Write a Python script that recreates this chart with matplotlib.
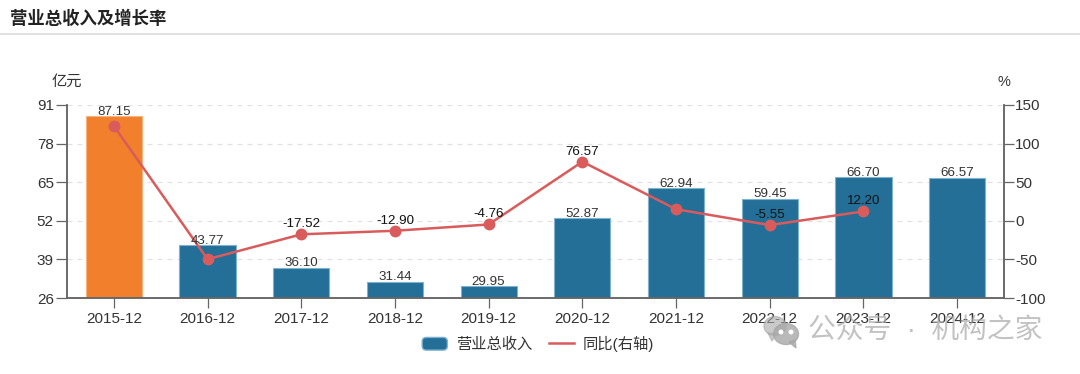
import matplotlib
matplotlib.use('Agg')
import matplotlib.pyplot as plt
from matplotlib.patches import Ellipse, Patch, Polygon, FancyBboxPatch
from matplotlib.legend_handler import HandlerPatch
from matplotlib.lines import Line2D
import numpy as np

plt.rcParams['font.family'] = ['Liberation Sans', 'Noto Sans CJK SC', 'DejaVu Sans']
plt.rcParams['axes.unicode_minus'] = False

categories = ['2015-12', '2016-12', '2017-12', '2018-12', '2019-12',
              '2020-12', '2021-12', '2022-12', '2023-12', '2024-12']
revenue = [87.15, 43.77, 36.10, 31.44, 29.95, 52.87, 62.94, 59.45, 66.70, 66.57]
growth = [122.8, -49.8, -17.52, -12.90, -4.76, 76.57, 15.0, -5.55, 12.20, np.nan]
growth_labels = [None, None, '-17.52', '-12.90', '-4.76', '76.57', None, '-5.55', '12.20', None]
left_ticks = [26, 39, 52, 65, 78, 91]
right_ticks = [-100, -50, 0, 50, 100, 150]

W, H = 1080, 374
BLUE = '#236f98'
ORANGE = '#f27f2c'
RED = '#d95b5c'
AXIS = '#666666'
TEXT = '#333333'

fig = plt.figure(figsize=(W / 100, H / 100), dpi=100, facecolor='white')
ax = fig.add_axes([67 / W, 1 - 298 / H, 937 / W, 193 / H])
x = np.arange(len(categories))

# bars, first year is highlighted
colors = [ORANGE] + [BLUE] * 9
edges = ['#f9b27c'] + ['#7fb2cf'] * 9
ax.bar(x, revenue, width=0.6, color=colors, edgecolor=edges, linewidth=0.8, zorder=2)
ax.set_xlim(-0.5, 9.5)
ax.set_ylim(26, 91)
ax.set_yticks(left_ticks)
ax.set_xticks(x)
ax.set_xticklabels(categories)
ax.grid(axis='y', color='#e2e2e2', linestyle=(0, (4, 4)), linewidth=0.9, zorder=0)
ax.set_axisbelow(True)
ax.tick_params(axis='x', length=7, width=0.9, color=AXIS, labelcolor=TEXT, labelsize=11, pad=3)
ax.tick_params(axis='y', length=8, width=0.9, color=AXIS, labelcolor=TEXT, labelsize=11, pad=1.5)

ax2 = ax.twinx()
ax2.set_ylim(-100, 150)
ax2.set_yticks(right_ticks)
ax2.tick_params(axis='y', length=7, width=0.9, color=AXIS, labelcolor=TEXT, labelsize=11, pad=1)
ax2.plot(x, growth, color=RED, linewidth=1.8, marker='o', markersize=7.5, zorder=3)

for a in (ax, ax2):
    a.spines['top'].set_visible(False)
    for side in ('left', 'right', 'bottom'):
        a.spines[side].set_color(AXIS)
        a.spines[side].set_linewidth(1.1)

# labels go on the top axes so the bars don't cover them
for i, v in enumerate(revenue):
    ax2.annotate(f'{v:.2f}', xy=(i, (v - 26) / 65 * 250 - 100), xytext=(0, -1),
                 textcoords='offset points', ha='center', va='bottom',
                 fontsize=9.6, color=TEXT, zorder=4)
for i, lab in enumerate(growth_labels):
    if lab:
        ax2.annotate(lab, xy=(i, growth[i]), xytext=(0, 3), textcoords='offset points',
                     ha='center', va='bottom', fontsize=9.6, color='#111111', zorder=4)

fig.text(10 / W, 1 - 18 / H, '营业总收入及增长率', fontsize=12.5, fontweight='bold',
         color='#222222', va='center')
fig.add_artist(Line2D([0, 1], [1 - 34 / H] * 2, color='#dddddd', linewidth=1.3))
fig.text(67 / W, 1 - 82 / H, '亿元', fontsize=11, color=TEXT, ha='center', va='center')
fig.text(1004 / W, 1 - 82 / H, '%', fontsize=10.5, color=TEXT, ha='center', va='center')


def round_handle(legend, orig_handle, xdescent, ydescent, width, height, fontsize):
    return FancyBboxPatch((-xdescent + 2, -ydescent + 2), width - 4, height - 4,
                          boxstyle='round,pad=2,rounding_size=3')


handles = [Patch(facecolor=BLUE, edgecolor='#7fb2cf', label='营业总收入'),
           Line2D([0], [0], color=RED, linewidth=1.8, label='同比(右轴)')]
fig.legend(handles=handles, loc='center', bbox_to_anchor=(538 / W, 1 - 344 / H), ncol=2,
           frameon=False, fontsize=11, labelcolor=TEXT, handlelength=1.65, handleheight=0.9,
           handletextpad=0.55, columnspacing=1.1,
           handler_map={Patch: HandlerPatch(patch_func=round_handle)})

# watermark
GREY = '#a8a8a8'


def px(px_x, px_y):
    return (px_x / W, 1 - px_y / H)


fig.add_artist(Ellipse(px(775, 326), 22 / W, 19 / H, color=GREY, alpha=0.6, zorder=10))
fig.add_artist(Polygon([px(768, 333), px(772, 341), px(776, 334)], color=GREY, alpha=0.6, zorder=10))
fig.add_artist(Ellipse(px(786, 334), 25 / W, 21 / H, color=GREY, alpha=0.8, zorder=11))
fig.add_artist(Polygon([px(789, 342), px(796, 348), px(795, 340)], color=GREY, alpha=0.8, zorder=11))
for ex in (781, 791):
    fig.add_artist(Ellipse(px(ex, 332), 3.5 / W, 3.5 / H, color='white', zorder=12))
fig.text(808 / W, 1 - 331 / H, '公众号  ·  机构之家', fontsize=20, color='#a8a8a8',
         alpha=0.7, va='center', ha='left', zorder=12)

fig.savefig('out.png', dpi=100)
